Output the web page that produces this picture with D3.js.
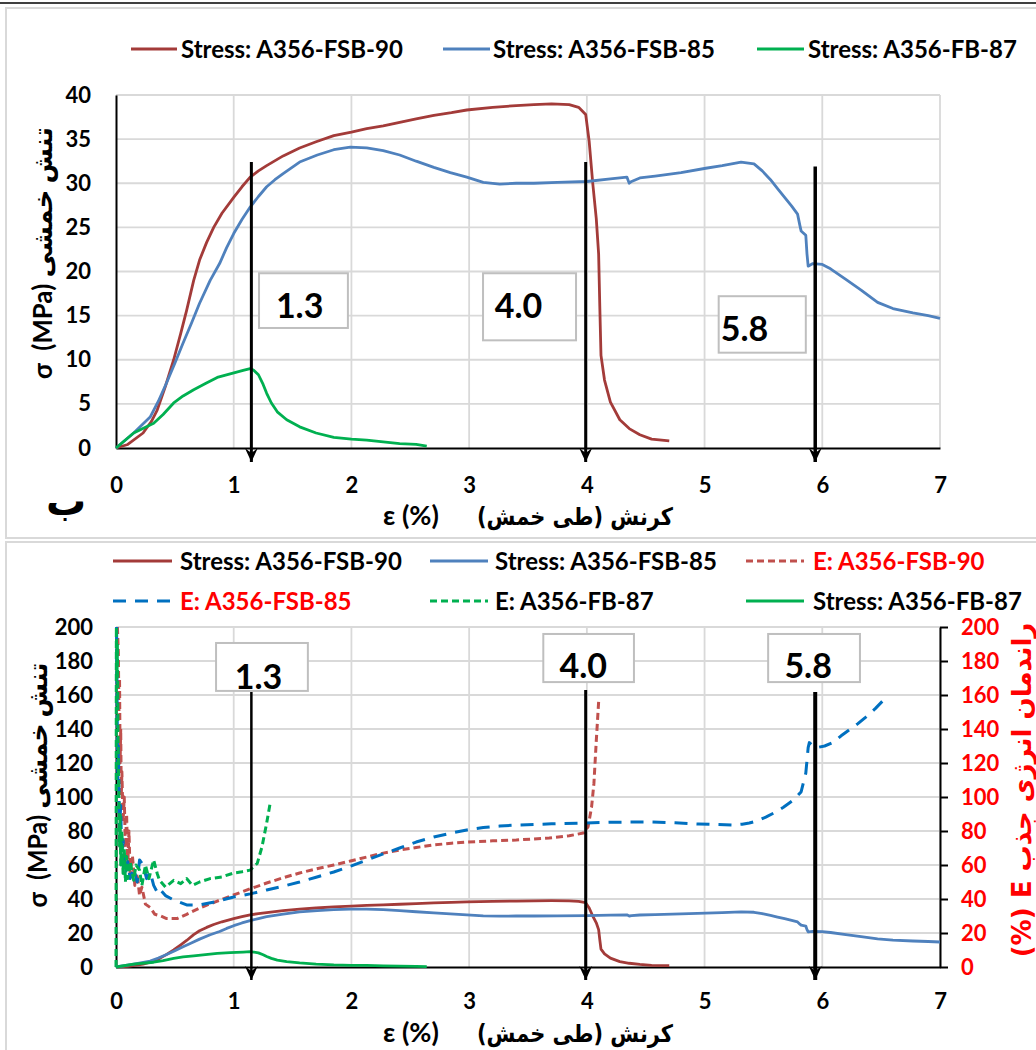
<!DOCTYPE html>
<html><head><meta charset="utf-8">
<script src="https://cdn.jsdelivr.net/npm/d3@7"></script>
<style>
body{margin:0;background:#fff}
svg{display:block}
text{font-family:Lato,'DejaVu Sans',sans-serif;font-weight:bold}
.fa{font-family:'DejaVu Sans',sans-serif;font-weight:bold}
</style>
</head><body><svg id="c" width="1036" height="1050"></svg>
<script>
// ---------------- DATA ----------------
const xTicks = [0,1,2,3,4,5,6,7];
const yTicksTop = [0,5,10,15,20,25,30,35,40];
const yTicksBottom = [0,20,40,60,80,100,120,140,160,180,200];

// Stress (MPa) vs strain (%)
const stressFSB90 = [[0,0],[0.1,0.4],[0.23,1.7],[0.3,3],[0.35,4.3],[0.42,7],[0.49,10],[0.55,13],[0.6,15.6],[0.66,19],[0.71,21.3],[0.77,23.3],[0.83,25],[0.9,26.6],[1.0,28.4],[1.07,29.6],[1.14,30.7],[1.21,31.4],[1.28,32],[1.42,33.1],[1.56,34],[1.7,34.7],[1.85,35.4],[2.0,35.8],[2.13,36.2],[2.27,36.5],[2.41,36.9],[2.55,37.3],[2.7,37.7],[2.85,38],[2.98,38.3],[3.2,38.6],[3.4,38.8],[3.55,38.9],[3.7,39.0],[3.85,38.9],[3.93,38.6],[3.99,37.8],[4.02,34.7],[4.05,30],[4.08,26],[4.1,22],[4.11,16],[4.12,10.5],[4.15,7.7],[4.2,5.2],[4.28,3.2],[4.36,2.2],[4.45,1.5],[4.55,1.0],[4.7,0.8]];
const stressFSB85 = [[0,0],[0.15,1.7],[0.29,3.5],[0.36,5.3],[0.43,7.4],[0.5,9.6],[0.57,11.9],[0.64,14.1],[0.71,16.4],[0.8,19],[0.88,20.9],[0.94,22.7],[1.0,24.3],[1.07,25.9],[1.14,27.3],[1.21,28.5],[1.28,29.6],[1.35,30.4],[1.42,31.1],[1.56,32.4],[1.71,33.2],[1.85,33.8],[1.99,34.1],[2.13,34.0],[2.27,33.7],[2.41,33.2],[2.55,32.5],[2.7,31.8],[2.84,31.2],[2.98,30.7],[3.12,30.1],[3.26,29.9],[3.4,30.0],[3.55,30.0],[3.75,30.1],[4.0,30.2],[4.2,30.5],[4.34,30.7],[4.36,30.0],[4.38,30.2],[4.45,30.6],[4.58,30.8],[4.8,31.2],[5.01,31.7],[5.15,32.0],[5.31,32.4],[5.42,32.2],[5.49,31.4],[5.56,30.4],[5.62,29.4],[5.68,28.4],[5.74,27.4],[5.79,26.5],[5.81,25.2],[5.82,24.6],[5.86,24.1],[5.87,22],[5.88,20.6],[5.92,20.9],[6.0,20.8],[6.07,20.3],[6.2,19.1],[6.33,17.9],[6.47,16.5],[6.6,15.8],[6.77,15.3],[6.9,15.0],[7.0,14.7]];
const stressFB87 = [[0,0],[0.15,1.7],[0.32,2.8],[0.4,3.8],[0.49,5.1],[0.57,5.9],[0.66,6.6],[0.76,7.3],[0.86,8.0],[0.97,8.4],[1.08,8.8],[1.14,9.0],[1.17,8.8],[1.21,8.3],[1.25,7.2],[1.28,6.2],[1.32,5.1],[1.37,4.1],[1.45,3.2],[1.56,2.4],[1.7,1.7],[1.85,1.2],[2.0,1.0],[2.13,0.9],[2.27,0.7],[2.41,0.5],[2.55,0.4],[2.64,0.2]];

// Energy absorption efficiency E (%) vs strain (%)
const energyFSB90 = [[0.012,200],[0.02,185],[0.025,150],[0.03,170],[0.035,120],[0.04,140],[0.045,100],[0.05,115],[0.06,85],[0.07,100],[0.08,70],[0.09,90],[0.1,60],[0.11,80],[0.12,55],[0.14,65],[0.16,48],[0.18,55],[0.2,42],[0.22,47],[0.25,37],[0.29,35],[0.33,31],[0.38,30],[0.43,28.5],[0.52,28.5],[0.6,31],[0.71,34.7],[0.85,38.5],[1.0,42.4],[1.14,46],[1.28,49.4],[1.42,52.5],[1.56,55.3],[1.7,57.7],[1.85,60],[2.0,62.5],[2.13,64.7],[2.27,67],[2.41,68.8],[2.55,70.3],[2.7,71.8],[2.85,72.8],[2.98,73.5],[3.2,74.2],[3.4,74.7],[3.68,75.9],[3.85,77.2],[3.97,78.8],[4.01,82.4],[4.04,94],[4.06,108],[4.08,133],[4.1,156]];
const energyFSB85 = [[0.005,200],[0.01,150],[0.015,110],[0.02,130],[0.03,80],[0.04,95],[0.05,60],[0.06,75],[0.08,55],[0.1,62],[0.12,52],[0.15,58],[0.18,50],[0.2,63],[0.23,60],[0.26,52],[0.29,56],[0.32,48],[0.35,44],[0.37,46],[0.42,42],[0.49,39.4],[0.6,36.5],[0.71,36.5],[0.85,38.5],[1.0,41.2],[1.14,43],[1.28,45.3],[1.42,47.5],[1.56,50],[1.7,52.8],[1.85,55.9],[2.0,59.5],[2.13,62.9],[2.27,66.5],[2.41,70],[2.55,73.5],[2.7,76.5],[2.85,78.8],[2.98,80.6],[3.12,82],[3.26,82.9],[3.4,83.5],[3.7,84.2],[3.97,84.7],[4.25,85.2],[4.53,85.3],[4.75,84.8],[4.95,84.1],[5.1,83.8],[5.24,83.5],[5.32,84],[5.38,84.7],[5.45,86],[5.52,88.2],[5.6,91],[5.67,94],[5.75,98],[5.82,103],[5.86,114],[5.88,129],[5.89,132],[5.92,130],[5.95,129],[6.02,130],[6.09,132],[6.16,136],[6.23,139.5],[6.3,143],[6.37,147],[6.45,152],[6.52,157]];
const energyFB87 = [[0,0],[0.003,200],[0.008,170],[0.012,190],[0.016,140],[0.02,120],[0.025,100],[0.03,71],[0.035,90],[0.04,60],[0.05,80],[0.06,55],[0.07,70],[0.08,50],[0.09,65],[0.1,52],[0.12,62],[0.15,51],[0.17,60],[0.2,57],[0.22,48],[0.25,60],[0.28,52],[0.32,63],[0.35,55],[0.37,51],[0.42,47],[0.49,51],[0.55,49],[0.6,52],[0.65,48],[0.71,50],[0.8,52],[0.9,53],[1.0,55.3],[1.07,56],[1.14,57],[1.2,61],[1.24,70.6],[1.28,84.7],[1.31,96.5]];

// critical strains marked on the charts
const markLabels = ["1.3","4.0","5.8"];
const markStrains = [1.15, 3.99, 5.94];

// ---------------- STYLE ----------------
const C = {
  red:"#a33b39", blue:"#4f81bd", green:"#00b050",
  eRed:"#c0504d", eBlue:"#0070c0", grid:"#d9d9d9"
};

const svg = d3.select("#c");
const defs = svg.append("defs");
defs.append("marker").attr("id","arr").attr("markerUnits","userSpaceOnUse")
  .attr("viewBox","-8 -16 16 17").attr("refX",0).attr("refY",0)
  .attr("markerWidth",16).attr("markerHeight",17).attr("orient","0")
  .append("path").attr("d","M-6.5,-14 L0,0 L6.5,-14 L0,-9 Z").attr("fill","#000");

// rotated text squeezed along its own direction to a target length
function rotatedText(cx, cy, str, size, color, target, rtl){
  const t = svg.append("text").attr("class", rtl ? "fa" : null)
    .attr("x",0).attr("y",0).attr("text-anchor","middle")
    .attr("font-size",size).attr("fill",color).style("white-space","pre").text(str);
  if(rtl) t.style("direction","rtl");
  const w = t.node().getBBox().width;
  const s = w > 0 ? target / w : 1;
  t.attr("transform",`translate(${cx},${cy}) rotate(-90) scale(${s},1)`);
  return t;
}

// frames
svg.append("line").attr("x1",0).attr("x2",1036).attr("y1",3).attr("y2",3).attr("stroke","#000").attr("stroke-width",1.5);
svg.append("rect").attr("x",6).attr("y",8).attr("width",1050).attr("height",530).attr("fill","none").attr("stroke",C.grid).attr("stroke-width",2);
svg.append("rect").attr("x",6).attr("y",542).attr("width",1050).attr("height",520).attr("fill","none").attr("stroke",C.grid).attr("stroke-width",2);

const x = d3.scaleLinear().domain([0,7]).range([116,940]);

function drawChart(o){
  const g = svg.append("g");
  const y = o.y;
  const [yb, yt] = y.range();
  const clipId = "clip"+o.id;
  defs.append("clipPath").attr("id",clipId).append("rect")
    .attr("x",x(0)-3).attr("y",yt-3).attr("width",x(7)-x(0)+6).attr("height",yb-yt+6);
  // grid
  g.append("g").selectAll("line").data(xTicks.slice(1)).join("line")
    .attr("x1",d=>x(d)).attr("x2",d=>x(d)).attr("y1",yt).attr("y2",yb)
    .attr("stroke",C.grid).attr("stroke-width",1.8);
  g.append("g").selectAll("line").data(o.yTicks.slice(1)).join("line")
    .attr("x1",x(0)).attr("x2",x(7)).attr("y1",d=>y(d)).attr("y2",d=>y(d))
    .attr("stroke",C.grid).attr("stroke-width",1.8);
  // axes
  const ax = g.append("g").attr("transform",`translate(0,${yb})`)
    .call(d3.axisBottom(x).tickValues(xTicks).tickSize(0).tickSizeOuter(0).tickPadding(o.xPad).tickFormat(d3.format("d")));
  const ay = g.append("g").attr("transform",`translate(${x(0)},0)`)
    .call(d3.axisLeft(y).tickValues(o.yTicks).tickSize(0).tickSizeOuter(0).tickPadding(o.yPad).tickFormat(d3.format("d")));
  [ax,ay].forEach(a=>{
    a.select(".domain").attr("stroke","#000").attr("stroke-width",2);
    a.selectAll("text").attr("font-size",22).attr("fill","#000")
      .style("font-family","Lato,'DejaVu Sans',sans-serif").style("font-weight","bold");
  });
  if(o.right){
    const ar = g.append("g").attr("transform",`translate(${x(7)},0)`)
      .call(d3.axisRight(y).tickValues(o.yTicks).tickSize(8).tickSizeOuter(0).tickPadding(13).tickFormat(d3.format("d")));
    ar.select(".domain").attr("stroke","#000").attr("stroke-width",2);
    ar.selectAll("line").attr("stroke","#000").attr("stroke-width",2);
    ar.selectAll("text").attr("font-size",22).attr("fill","#ff0000")
      .style("font-family","Lato,'DejaVu Sans',sans-serif").style("font-weight","bold");
  }
  // series
  const line = d3.line().x(d=>x(d[0])).y(d=>y(d[1]));
  const sg = g.append("g").attr("clip-path",`url(#${clipId})`);
  o.series.forEach(s=>{
    sg.append("path").datum(s.data).attr("d",line).attr("fill","none")
      .attr("stroke",s.color).attr("stroke-width",s.w||2.8)
      .attr("stroke-dasharray",s.dash||null).attr("stroke-linejoin","round");
  });
  // annotations
  o.marks.forEach((m,i)=>{
    g.append("line").attr("x1",x(markStrains[i])).attr("x2",x(markStrains[i]))
      .attr("y1",y(m.top)).attr("y2",m.tip)
      .attr("stroke","#000").attr("stroke-width",m.w).attr("marker-end","url(#arr)");
  });
  o.marks.forEach((m,i)=>{
    g.append("rect").attr("x",x(m.bx[0])).attr("y",y(m.by[0]))
      .attr("width",x(m.bx[1])-x(m.bx[0])).attr("height",y(m.by[1])-y(m.by[0]))
      .attr("fill","#fff").attr("stroke","#bfbfbf").attr("stroke-width",2);
    g.append("text").attr("x",x(m.tx)).attr("y",y(m.ty)).attr("text-anchor","middle")
      .attr("font-size",34).attr("fill","#000").text(markLabels[i]);
  });
  // axis titles
  g.append("text").attr("x",383).attr("y",o.xTitleY).attr("font-size",27).attr("fill","#000").text("ε (%)");
  g.append("text").attr("class","fa").attr("x",673).attr("y",o.xTitleY).attr("font-size",24)
    .attr("fill","#000").attr("direction","rtl").style("direction","rtl").attr("text-anchor","start")
    .attr("textLength",196).attr("lengthAdjust","spacingAndGlyphs")
    .text("کرنش (طی خمش)");
  rotatedText(o.yTitleX, o.yTitleC, "σ  (MPa) تنش خمشی", 26, "#000", o.yTitleLen, false);
  // legend
  o.legend.forEach(l=>{
    g.append("line").attr("x1",l.x1).attr("x2",l.x2).attr("y1",l.y).attr("y2",l.y)
      .attr("stroke",l.color).attr("stroke-width",3).attr("stroke-dasharray",l.dash||null);
    g.append("text").attr("x",l.tx).attr("y",l.y).attr("dy","0.36em").attr("font-size",24)
      .attr("fill",l.tcolor||"#000").text(l.text);
  });
  return g;
}

const yTop = d3.scaleLinear().domain([0,40]).range([448,95]);
const yBot = d3.scaleLinear().domain([0,200]).range([967,627]);

drawChart({
  id:"top", y:yTop, yTicks:yTicksTop, xPad:29, yPad:25, xTitleY:525,
  yTitleX:52, yTitleC:253, yTitleLen:252,
  series:[
    {data:stressFSB90,color:C.red},
    {data:stressFSB85,color:C.blue},
    {data:stressFB87,color:C.green}
  ],
  marks:[
    {top:32.4, tip:462, w:3, bx:[1.215,1.97], by:[19.8,13.6], tx:1.56, ty:14.7},
    {top:32.4, tip:462, w:3, bx:[3.118,3.908], by:[19.8,12.2], tx:3.42, ty:14.7},
    {top:31.9, tip:462, w:3.5, bx:[5.12,5.86], by:[17.2,10.8], tx:5.34, ty:12.1}
  ],
  legend:[
    {x1:131,x2:177,y:49,color:C.red,tx:181,text:"Stress: A356-FSB-90"},
    {x1:443,x2:490,y:49,color:C.blue,tx:493,text:"Stress: A356-FSB-85"},
    {x1:757,x2:804,y:49,color:C.green,tx:808,text:"Stress: A356-FB-87"}
  ]
});
svg.append("text").attr("class","fa").attr("x",66).attr("y",515).attr("text-anchor","middle")
  .attr("font-size",40).attr("fill","#000").text("ب");

drawChart({
  id:"bot", y:yBot, yTicks:yTicksBottom, xPad:26, yPad:23, xTitleY:1042,
  yTitleX:47, yTitleC:785, yTitleLen:245, right:true,
  series:[
    {data:energyFSB90,color:C.eRed,dash:"7,4",w:3},
    {data:energyFSB85,color:C.eBlue,dash:"13,9",w:3},
    {data:energyFB87,color:C.green,dash:"7,4",w:3},
    {data:stressFSB90,color:C.red},
    {data:stressFSB85,color:C.blue},
    {data:stressFB87,color:C.green}
  ],
  marks:[
    {top:161.8, tip:980, w:2.5, bx:[0.85,1.63], by:[190.6,162.4], tx:1.21, ty:163.5},
    {top:163, tip:980, w:3, bx:[3.63,4.40], by:[195.9,167.6], tx:3.97, ty:170},
    {top:161.8, tip:980, w:4, bx:[5.54,6.32], by:[195.9,167.6], tx:5.88, ty:170}
  ],
  legend:[
    {x1:113,x2:172,y:561,color:C.red,tx:180,text:"Stress: A356-FSB-90"},
    {x1:430,x2:488,y:561,color:C.blue,tx:495,text:"Stress: A356-FSB-85"},
    {x1:746,x2:804,y:561,color:C.eRed,dash:"7,4",tx:813,text:"E: A356-FSB-90",tcolor:"#ff0000"},
    {x1:113,x2:172,y:601,color:C.eBlue,dash:"13,9",tx:180,text:"E: A356-FSB-85",tcolor:"#ff0000"},
    {x1:430,x2:488,y:601,color:C.green,dash:"7,4",tx:495,text:"E: A356-FB-87"},
    {x1:746,x2:804,y:601,color:C.green,tx:813,text:"Stress: A356-FB-87"}
  ]
});
rotatedText(1031, 790, "راندمان انرژی جذب E (%)", 26, "#ff0000", 335, true);
</script>
</body></html>
